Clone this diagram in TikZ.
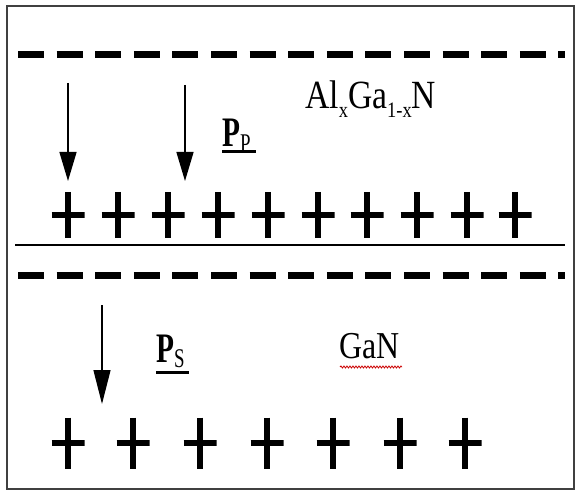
\documentclass[tikz,border=0pt]{standalone}
\usepackage{fontspec}
\setmainfont{Liberation Serif}
\usetikzlibrary{arrows.meta,decorations.pathmorphing}
\newcommand{\lowsub}[1]{\raisebox{-0.22em}{\fontsize{22}{24}\selectfont #1}}
\newcommand{\vecsub}[1]{\raisebox{-0.12em}{\fontsize{27}{29}\selectfont #1}}
\begin{document}
\begin{tikzpicture}[x=1pt,y=-1pt,
  dashline/.style={line width=7pt, dash pattern=on 26pt off 12.6pt},
  plusmark/.style={minimum width=33pt, minimum height=46pt, inner sep=0pt,
    path picture={
      \draw[line width=6pt] (path picture bounding box.north) -- (path picture bounding box.south);
      \draw[line width=6pt] (path picture bounding box.west) -- (path picture bounding box.east);
    }},
  parrow/.style={line width=1.3pt, -{Triangle[length=29pt,width=17pt]}},
  lbl/.style={inner sep=0pt, anchor=base west},
  uline/.style={line width=3pt}
]
\useasboundingbox (0,0) rectangle (579,492);
\fill[white] (0,0) rectangle (579,492);
% frame
\draw[black!75, line width=2.2pt] (7,6) rectangle (574,489);
% dashed lines (negative charges)
\coordinate (d1a) at (18,55);
\coordinate (d1b) at (565,55);
\draw[dashline] (d1a) -- (d1b);
\coordinate (d2a) at (18,275);
\coordinate (d2b) at (565,275);
\draw[dashline] (d2a) -- (d2b);
% interface
\coordinate (ia) at (15,245);
\coordinate (ib) at (565,245);
\draw[line width=1.8pt] (ia) -- (ib);
% top plus row
\foreach \i/\x in {1/68,2/118,3/168,4/218,5/268,6/318,7/367,8/417,9/467,10/515}
  \node[plusmark] (t\i) at (\x,215) {};
% bottom plus row
\foreach \i/\x in {1/68,2/133,3/200,4/267,5/333,6/400,7/465}
  \node[plusmark, minimum height=51pt] (b\i) at (\x,443) {};
% arrows
\coordinate (a1s) at (68,83);
\coordinate (a1e) at (68,181);
\coordinate (a2s) at (185,85);
\coordinate (a2e) at (185,181);
\coordinate (a3s) at (102,305);
\coordinate (a3e) at (102,404);
\draw[parrow] (a1s) -- (a1e);
\draw[parrow] (a2s) -- (a2e);
\draw[parrow, -{Triangle[length=34pt,width=17pt]}] (a3s) -- (a3e);
% labels
\node[lbl] (alg) at (305,109) {\fontsize{40}{44}\selectfont\scalebox{0.84}[1]{Al\lowsub{x}Ga\lowsub{1-x}N}};
\node[lbl] (pp) at (222,147) {\fontsize{42}{46}\selectfont\scalebox{0.7}[1]{\textbf{P}\vecsub{P}}};
\node[lbl] (ps) at (156,362) {\fontsize{42}{46}\selectfont\scalebox{0.7}[1]{\textbf{P}\vecsub{S}}};
\node[lbl] (gan) at (339,358) {\fontsize{38}{42}\selectfont\scalebox{0.84}[1]{GaN}};
% underlines of the vector symbols
\coordinate (ppu1) at (222,152);
\coordinate (ppu2) at (256,152);
\draw[uline] (ppu1) -- (ppu2);
\coordinate (psu1) at (156,372);
\coordinate (psu2) at (189,372);
\draw[uline] (psu1) -- (psu2);
% spell-check squiggle under GaN
\coordinate (sqa) at (340,367);
\coordinate (sqb) at (402,367);
\draw[red!80!black, line width=0.8pt, decorate, decoration={snake, amplitude=1pt, segment length=3pt}] (sqa) -- (sqb);
\end{tikzpicture}
\end{document}
